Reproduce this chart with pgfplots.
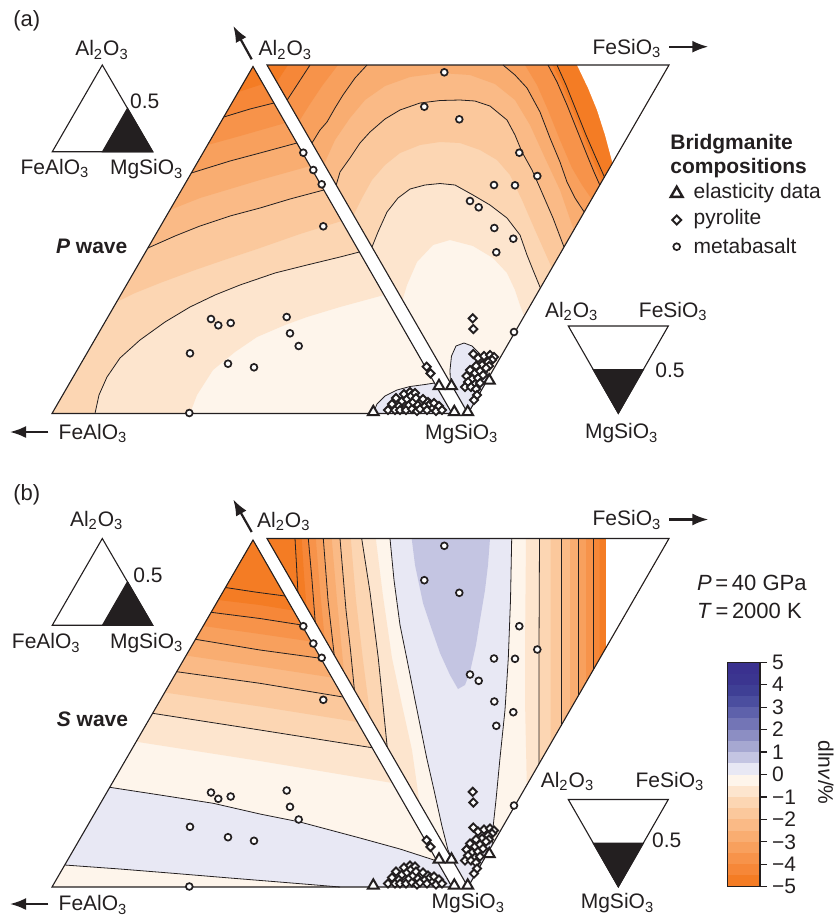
\documentclass[border=0pt]{standalone}
\usepackage{pgfplots}
\pgfplotsset{compat=1.18}
\usepackage{pgfplotstable}
\usepackage{fontspec}
\setmainfont{Liberation Sans}
\usetikzlibrary{arrows.meta}

% contour band colours: o1 (0 to -0.5) ... o10 (-4.5 to -5); b1 (0 to 0.5) ... b10 (4.5 to 5)
\definecolor{o1}{HTML}{FEF5EB}
\definecolor{o2}{HTML}{FDE5CE}
\definecolor{o3}{HTML}{FCD6B3}
\definecolor{o4}{HTML}{FBC89C}
\definecolor{o5}{HTML}{FABA86}
\definecolor{o6}{HTML}{F9AD71}
\definecolor{o7}{HTML}{F8A05D}
\definecolor{o8}{HTML}{F7934A}
\definecolor{o9}{HTML}{F68738}
\definecolor{o10}{HTML}{F47C24}
\definecolor{b1}{HTML}{E8E8F4}
\definecolor{b2}{HTML}{C4C5E2}
\definecolor{b3}{HTML}{A6A8D1}
\definecolor{b4}{HTML}{8C8EC3}
\definecolor{b5}{HTML}{7375B6}
\definecolor{b6}{HTML}{5E61AB}
\definecolor{b7}{HTML}{4B4E9F}
\definecolor{b8}{HTML}{3F3F95}
\definecolor{b9}{HTML}{3B3590}
\definecolor{b10}{HTML}{3A318F}
\definecolor{ink}{HTML}{231F20}

\newcommand{\lbl}{\fontsize{10.5}{12}\selectfont}
\newcommand{\sub}[1]{\textsubscript{#1}}

% bridgmanite compositions (panel a frame; panel b is 473.5 px lower)
\pgfplotstableread{
x y
303.3 152.7
313.3 170
321.7 184.3
323.3 226.3
211 319
218.3 325.3
230.7 323
286.7 317
290 333.3
298.7 346
190 353.3
228 363.7
254 367.3
189.3 413
444.3 72.3
424.3 106.7
459.3 119.3
519.3 152.7
537.3 176
494 185
515 185.3
470 201
478.7 207.3
494.3 228
513.3 238.7
496.3 252.3
514 332
}\metabasalt

\pgfplotstableread{
x y
426.7 366.7
430.5 373.3
388 410
392 404
395 410
396 398
399 406
400 410
402 401
404 394
406 410
407 399
409 405
410 392
411 396
412 409
413 402
415 393
416 398
417 411
418 405
420 409
422 401
423 399
425 406
427 410
428 402
430 404
433 408
434 403
436 411
439 406
442 410
472.7 318.3
473.3 329
473.3 354
478 358
484 356
490 355
494 357
492 360
488 362
482 365
476 366
489 366
470 370
475 373
480 371
486 368
466.5 376
472 379
478 378
483 375
468 382
475 384
480 383
465 387
471 387
476 389
477 395
474 400
}\pyrolite

\pgfplotstableread{
x y
373.3 412
439 386
451.5 386
454.3 412
467.7 412
489.3 380.5
}\elastic

\pgfplotsset{
  cline/.style={draw=ink, line width=0.4pt, mark=none},
  tri/.style={draw=ink, line width=0.55pt, fill=none, mark=none},
  band/.style={fill=#1, draw=none, mark=none},
  mbas/.style={only marks, mark=*, mark size=1.7pt, mark options={draw=ink, line width=0.85pt, fill=white}},
  mpyr/.style={only marks, mark=square*, mark size=1.45pt, mark options={draw=ink, line width=0.95pt, fill=white, rotate=45}},
  mela/.style={only marks, mark=triangle*, mark size=3.1pt, mark options={draw=ink, line width=1pt, fill=white}},
}
\tikzset{arr/.style={draw=ink, line width=1.1pt, -{Latex[length=8pt,width=6pt]}}}

\begin{document}
\begin{tikzpicture}
\begin{axis}[at={(0,0)}, anchor=south west, scale only axis,
  width=418pt, height=461.5pt, xmin=0, xmax=836, ymin=0, ymax=923,
  y dir=reverse, hide axis, clip=false]

%% ================= panel (a): P wave =================
% left triangle Al2O3 - FeAlO3 - MgSiO3
\addplot[band=o1] coordinates {(52,413.5)(452,413.5)(253,66.5)} --cycle;
\addplot[band=o2] coordinates {(190,413.5)(197,395)(213,370)(235,352)(257,337)(285,325)(307,317)(340,307)(384,295)(253,66.5)(52,413.5)} --cycle;
\addplot[band=o3] coordinates {(95,413.5)(99,395)(107,377)(120,358)(140,340)(165,322)(190,307)(215,295)(240,285)(275,273)(307,265)(340,257)(359.4,252)(253,66.5)(52,413.5)} --cycle;
\addplot[band=o4] coordinates {(116.6,302)(135,293)(160,283)(195,270)(227,259)(260,248)(300,234)(341.6,221)(253,66.5)} --cycle;
\addplot[band=o5] coordinates {(147.9,248)(175,236)(200,226)(230,216)(260,208)(290,199)(323.8,190)(253,66.5)} --cycle;
\addplot[band=o6] coordinates {(169.9,210)(200,198)(230,189)(260,180)(310.1,166)(253,66.5)} --cycle;
\addplot[band=o7] coordinates {(191.3,173)(230,161)(260,153)(296.9,143)(253,66.5)} --cycle;
\addplot[band=o8] coordinates {(207.5,145)(240,136)(285.4,123)(253,66.5)} --cycle;
\addplot[band=o9] coordinates {(223.8,117)(250,109)(273.9,103)(253,66.5)} --cycle;
\addplot[band=o10] coordinates {(238.2,92)(263,84)(253,66.5)} --cycle;
\addplot[band=b1] coordinates {(373,413.5)(377,404)(385,396)(397,390)(410,386.5)(425,384.5)(434.5,383)(452,413.5)} --cycle;
\addplot[cline] coordinates {(223.8,117)(250,109)(273.9,103)};
\addplot[cline] coordinates {(191.3,173)(230,161)(260,153)(296.9,143)};
\addplot[cline] coordinates {(147.9,248)(175,236)(200,226)(230,216)(260,208)(290,199)(323.8,190)};
\addplot[cline] coordinates {(95,413.5)(99,395)(107,377)(120,358)(140,340)(165,322)(190,307)(215,295)(240,285)(275,273)(307,265)(340,257)(359.4,252)};
\addplot[cline] coordinates {(373,413.5)(377,404)(385,396)(397,390)(410,386.5)(425,384.5)(434.5,383)};
\addplot[tri] coordinates {(253,66.5)(52,413.5)(452,413.5)} --cycle;

% right triangle Al2O3 - FeSiO3 - MgSiO3
\addplot[band=o1] coordinates {(267,65)(669,65)(468,413.5)} --cycle;
\addplot[band=o2] coordinates {(402.5,300)(407,285)(417,262)(433,245)(450,240)(473,246)(493,258)(507,273)(515,290)(520,305)(524.2,316)(669,65)(267,65)} --cycle;
\addplot[band=o3] coordinates {(372,247)(378,232)(387,212)(398,198)(410,189)(425,185)(440,183.5)(455,185)(473,195)(490,205)(507,218)(520,235)(527,255)(533,270)(540.4,288)(669,65)(267,65)} --cycle;
\addplot[band=o4] coordinates {(353.5,215)(362,198)(372,180)(385,165)(400,153)(420,145)(440,142)(460,143)(480,150)(497,160)(510,175)(522,200)(535,230)(551.9,268)(669,65)(267,65)} --cycle;
\addplot[band=o5] coordinates {(336.2,185)(340,172)(350,158)(360,143)(370,132)(385,119)(400,110)(420,103)(440,100.5)(460,100)(475,101)(490,106)(507,120)(515,135)(522,152)(532,170)(540,188)(553,218)(564,247)(669,65)(267,65)} --cycle;
\addplot[band=o6] coordinates {(324.1,164)(335,140)(350,118)(365,100)(385,86)(410,77)(440,73)(470,75)(495,84)(515,100)(530,125)(545,158)(560,190)(573.8,230)(669,65)(267,65)} --cycle;
\addplot[band=o7] coordinates {(312,143)(320,130)(327,122)(335,108)(343,95)(355,78)(367,65)(267,65)} --cycle;
\addplot[band=o7] coordinates {(503,65)(515,75)(527,88)(540,112)(550,138)(560,162)(567,182)(575,198)(584.2,212)(669,65)} --cycle;
\addplot[band=o8] coordinates {(299.3,121)(310,104)(322,86)(338,65)(267,65)} --cycle;
\addplot[band=o8] coordinates {(525,65)(537,85)(548,110)(560,140)(572,168)(582,185)(591.7,199)(669,65)} --cycle;
\addplot[band=o9] coordinates {(287.2,100)(297,85)(310,65)(267,65)} --cycle;
\addplot[band=o9] coordinates {(548,65)(557,82)(567,105)(577,130)(587,155)(594,172)(599.8,185)(669,65)} --cycle;
\addplot[band=o10] coordinates {(276.8,82)(288,65)(267,65)} --cycle;
\addplot[band=o10] coordinates {(552.5,65)(561.5,83)(571.5,107)(582,132)(592,158)(602.1,181)(669,65)} --cycle;
\addplot[band=white] coordinates {(577,65)(588,88)(597,110)(605,135)(612.5,163)(669,65)} --cycle;
\addplot[band=b1] coordinates {(450.4,383)(450,370)(451.5,356)(456,346)(464,343)(472,346)(480,354)(485,364)(489.1,377)(468,413.5)} --cycle;
\addplot[cline] coordinates {(372,247)(378,232)(387,212)(398,198)(410,189)(425,185)(440,183.5)(455,185)(473,195)(490,205)(507,218)(520,235)(527,255)(533,270)(540.4,288)};
\addplot[cline] coordinates {(336.2,185)(340,172)(350,158)(360,143)(370,132)(385,119)(400,110)(420,103)(440,100.5)(460,100)(475,101)(490,106)(507,120)(515,135)(522,152)(532,170)(540,188)(553,218)(564,247)};
\addplot[cline] coordinates {(312,143)(320,130)(327,122)(335,108)(343,95)(355,78)(367,65)};
\addplot[cline] coordinates {(503,65)(515,75)(527,88)(540,112)(550,138)(560,162)(567,182)(575,198)(584.2,212)};
\addplot[cline] coordinates {(287.2,100)(297,85)(310,65)};
\addplot[cline] coordinates {(548,65)(557,82)(567,105)(577,130)(587,155)(594,172)(599.8,185)};
\addplot[cline] coordinates {(557,65)(566,85)(576,110)(586,135)(596,158)(604.4,177)};
\addplot[cline] coordinates {(450.4,383)(450,370)(451.5,356)(456,346)(464,343)(472,346)(480,354)(485,364)(489.1,377)};
\addplot[tri] coordinates {(267,65)(669,65)(468,413.5)} --cycle;

%% ================= panel (b): S wave =================
\addplot[band=o1] coordinates {(52,887)(452,887)(253,540)} --cycle;
\addplot[band=b1] coordinates {(64.7,865)(120,869)(173.3,873.3)(230,878)(273.3,881.5)(310,884.5)(340,887)(452,887)(437.1,861)(400,849)(360,838)(300,822)(260,814)(213.3,803.3)(160,795)(109.8,787.3)} --cycle;
\addplot[band=o2] coordinates {(136.2,741.7)(260,761)(392.4,783)(253,540)} --cycle;
\addplot[band=o3] coordinates {(152.6,713.3)(260,730)(372.1,747.7)(253,540)} --cycle;
\addplot[band=o4] coordinates {(164.7,692.5)(260,706.5)(357.4,722)(253,540)} --cycle;
\addplot[band=o5] coordinates {(176.7,671.7)(260,683.3)(343,697)(253,540)} --cycle;
\addplot[band=o6] coordinates {(186.1,655.5)(260,666.5)(331.9,677.5)(253,540)} --cycle;
\addplot[band=o7] coordinates {(195.5,639.3)(260,650)(320.8,658.3)(253,540)} --cycle;
\addplot[band=o8] coordinates {(203.2,626)(260,634)(311.2,641.5)(253,540)} --cycle;
\addplot[band=o9] coordinates {(211.1,612.3)(260,618.5)(301.7,625)(253,540)} --cycle;
\addplot[band=o10] coordinates {(218.3,600)(260,605)(293.4,610.5)(253,540)} --cycle;
\addplot[cline] coordinates {(225.5,587.5)(255,592)(285.1,596)};
\addplot[cline] coordinates {(211.1,612.3)(260,618.5)(301.7,625)};
\addplot[cline] coordinates {(195.5,639.3)(260,650)(320.8,658.3)};
\addplot[cline] coordinates {(176.7,671.7)(260,683.3)(343,697)};
\addplot[cline] coordinates {(152.6,713.3)(260,730)(372.1,747.7)};
\addplot[cline] coordinates {(109.8,787.3)(160,795)(213.3,803.3)(260,814)(300,822)(360,838)(400,849)(437.1,861)};
\addplot[cline] coordinates {(64.7,865)(120,869)(173.3,873.3)(230,878)(273.3,881.5)(310,884.5)(340,887)};
\addplot[tri] coordinates {(253,540)(52,887)(452,887)} --cycle;

% right triangle
\addplot[band=b1] coordinates {(267,538.5)(669,538.5)(468,887)} --cycle;
\addplot[band=b2] coordinates {(411.7,538.5)(415,565)(423,603)(432,630)(440,653)(450,675)(458,689)(465,685)(470,672)(476,645)(480,620)(485,590)(488,565)(490,538.5)} --cycle;
\addplot[band=o1] coordinates {(390,538.5)(394,580)(400,625)(406.7,658)(415,700)(426.7,758)(434,790)(441.7,825)(448,850)(452.4,860)(267,538.5)} --cycle;
\addplot[band=o2] coordinates {(375.8,538.5)(383,596)(392,658)(402,705)(412,750)(419.5,803)(267,538.5)} --cycle;
\addplot[band=o3] coordinates {(361.7,538.5)(370,592)(378.3,658.3)(383,705)(387.2,747)(267,538.5)} --cycle;
\addplot[band=o4] coordinates {(350.8,538.5)(356,600)(363,660)(370.5,718)(267,538.5)} --cycle;
\addplot[band=o5] coordinates {(340,538.5)(346,610)(350.5,650)(354.4,690)(267,538.5)} --cycle;
\addplot[band=o6] coordinates {(331.7,538.5)(337,600)(344,672)(267,538.5)} --cycle;
\addplot[band=o7] coordinates {(323.3,538.5)(328,600)(334.2,655)(267,538.5)} --cycle;
\addplot[band=o8] coordinates {(315.8,538.5)(320,590)(324.7,638.5)(267,538.5)} --cycle;
\addplot[band=o9] coordinates {(308.3,538.5)(312,580)(315.2,622)(267,538.5)} --cycle;
\addplot[band=o10] coordinates {(301.7,538.5)(304,575)(306.5,607)(267,538.5)} --cycle;
\addplot[band=o1] coordinates {(511.7,538.5)(510.5,600)(508.3,658.3)(505,710)(500,758)(496,800)(493.3,825)(492.2,845)(669,538.5)} --cycle;
\addplot[band=o2] coordinates {(526,538.5)(525,650)(525,700)(526.8,785)(669,538.5)} --cycle;
\addplot[band=o3] coordinates {(539.5,538.5)(539,650)(539,763.9)(669,538.5)} --cycle;
\addplot[band=o4] coordinates {(550.7,538.5)(550.7,743.6)(669,538.5)} --cycle;
\addplot[band=o5] coordinates {(561,538.5)(561,725.8)(669,538.5)} --cycle;
\addplot[band=o6] coordinates {(570,538.5)(570,710.2)(669,538.5)} --cycle;
\addplot[band=o7] coordinates {(578.5,538.5)(578.5,695.4)(669,538.5)} --cycle;
\addplot[band=o8] coordinates {(586,538.5)(586,682.4)(669,538.5)} --cycle;
\addplot[band=o9] coordinates {(593.5,538.5)(593.5,669.4)(669,538.5)} --cycle;
\addplot[band=o10] coordinates {(599.5,538.5)(599.5,659)(669,538.5)} --cycle;
\addplot[band=white] coordinates {(606,538.5)(606,647.7)(669,538.5)} --cycle;
\addplot[cline] coordinates {(295,538.5)(296.5,565)(297.9,592)};
\addplot[cline] coordinates {(308.3,538.5)(312,580)(315.2,622)};
\addplot[cline] coordinates {(323.3,538.5)(328,600)(334.2,655)};
\addplot[cline] coordinates {(340,538.5)(346,610)(350.5,650)(354.4,690)};
\addplot[cline] coordinates {(361.7,538.5)(370,592)(378.3,658.3)(383,705)(387.2,747)};
\addplot[cline] coordinates {(390,538.5)(394,580)(400,625)(406.7,658)(415,700)(426.7,758)(434,790)(441.7,825)(448,850)(452.4,860)};
\addplot[cline] coordinates {(511.7,538.5)(510.5,600)(508.3,658.3)(505,710)(500,758)(496,800)(493.3,825)(492.2,845)};
\addplot[cline] coordinates {(539.5,538.5)(539,650)(539,763.9)};
\addplot[cline] coordinates {(561,538.5)(561,725.8)};
\addplot[cline] coordinates {(578.5,538.5)(578.5,695.4)};
\addplot[cline] coordinates {(593.5,538.5)(593.5,669.4)};
\addplot[tri] coordinates {(267,538.5)(669,538.5)(468,887)} --cycle;

%% ================= compositions =================
\addplot[mbas] table[x=x,y=y] {\metabasalt};
\addplot[mpyr] table[x=x,y=y] {\pyrolite};
\addplot[mela] table[x=x,y=y] {\elastic};
\addplot[mbas] table[x=x,y expr=\thisrow{y}+473.5] {\metabasalt};
\addplot[mpyr] table[x=x,y expr=\thisrow{y}+473.5] {\pyrolite};
\addplot[mela] table[x=x,y expr=\thisrow{y}+473.5] {\elastic};

%% ================= key triangles =================
\addplot[tri, fill=white] coordinates {(102.3,65)(52.3,151.7)(152.7,151.7)} --cycle;
\addplot[tri, fill=ink] coordinates {(127.5,108.3)(102.5,151.7)(152.7,151.7)} --cycle;
\addplot[tri, fill=white] coordinates {(102.3,538.5)(52.3,625.2)(152.7,625.2)} --cycle;
\addplot[tri, fill=ink] coordinates {(127.5,581.8)(102.5,625.2)(152.7,625.2)} --cycle;
\addplot[tri, fill=white] coordinates {(568.3,326)(668.3,326)(618.3,413.3)} --cycle;
\addplot[tri, fill=ink] coordinates {(593.3,369.7)(643.3,369.7)(618.3,413.3)} --cycle;
\addplot[tri, fill=white] coordinates {(568.3,799.5)(668.3,799.5)(618.3,886.8)} --cycle;
\addplot[tri, fill=ink] coordinates {(593.3,843.2)(643.3,843.2)(618.3,886.8)} --cycle;

% legend symbols
\addplot[mela, mark size=3.4pt, mark options={line width=1.2pt, draw=ink, fill=white}] coordinates {(676.7,193.5)};
\addplot[mpyr, mark size=1.6pt] coordinates {(676.7,220)};
\addplot[mbas] coordinates {(676.7,246.7)};

%% ================= text =================
\node[font=\fontsize{11}{12}\selectfont, text=ink] at (axis cs:26.7,21) {(a)};
\node[font=\fontsize{11}{12}\selectfont, text=ink] at (axis cs:26.7,495) {(b)};

% panel (a) labels
\node[font=\lbl, text=ink] at (axis cs:102,50) {Al\sub{2}O\sub{3}};
\node[font=\lbl, text=ink] at (axis cs:144.7,101.7) {0.5};
\node[font=\lbl, text=ink] at (axis cs:55,168.5) {FeAlO\sub{3}};
\node[font=\lbl, text=ink] at (axis cs:146.7,169.5) {MgSiO\sub{3}};
\node[font=\lbl, text=ink, anchor=west, inner sep=0pt] at (axis cs:258.3,50) {Al\sub{2}O\sub{3}};
\node[font=\lbl, text=ink, anchor=east, inner sep=0pt] at (axis cs:661.7,48.3) {FeSiO\sub{3}};
\node[font=\lbl, text=ink, anchor=west, inner sep=0pt] at (axis cs:58.3,433.5) {FeAlO\sub{3}};
\node[font=\lbl, text=ink] at (axis cs:461.7,434) {MgSiO\sub{3}};
\node[font=\lbl, text=ink] at (axis cs:91.7,246.7) {\textbf{\textit{P} wave}};
\node[font=\lbl, text=ink] at (axis cs:571.7,311.7) {Al\sub{2}O\sub{3}};
\node[font=\lbl, text=ink] at (axis cs:673.3,311.7) {FeSiO\sub{3}};
\node[font=\lbl, text=ink] at (axis cs:670,370) {0.5};
\node[font=\lbl, text=ink] at (axis cs:621.7,433.5) {MgSiO\sub{3}};
\node[font=\lbl, text=ink, anchor=west, inner sep=0pt] at (axis cs:670,144.5) {\textbf{Bridgmanite}};
\node[font=\lbl, text=ink, anchor=west, inner sep=0pt] at (axis cs:670,168.3) {\textbf{compositions}};
\node[font=\lbl, text=ink, anchor=west, inner sep=0pt] at (axis cs:693.3,192.7) {elasticity data};
\node[font=\lbl, text=ink, anchor=west, inner sep=0pt] at (axis cs:693.3,219) {pyrolite};
\node[font=\lbl, text=ink, anchor=west, inner sep=0pt] at (axis cs:693.3,246) {metabasalt};

% panel (b) labels
\node[font=\lbl, text=ink] at (axis cs:96.7,520.5) {Al\sub{2}O\sub{3}};
\node[font=\lbl, text=ink] at (axis cs:148,575) {0.5};
\node[font=\lbl, text=ink] at (axis cs:46.3,643) {FeAlO\sub{3}};
\node[font=\lbl, text=ink] at (axis cs:146.7,643) {MgSiO\sub{3}};
\node[font=\lbl, text=ink, anchor=west, inner sep=0pt] at (axis cs:256.7,521.7) {Al\sub{2}O\sub{3}};
\node[font=\lbl, text=ink, anchor=east, inner sep=0pt] at (axis cs:661.7,520) {FeSiO\sub{3}};
\node[font=\lbl, text=ink, anchor=west, inner sep=0pt] at (axis cs:58.3,905) {FeAlO\sub{3}};
\node[font=\lbl, text=ink] at (axis cs:468.3,903.5) {MgSiO\sub{3}};
\node[font=\lbl, text=ink] at (axis cs:92.5,719.3) {\textbf{\textit{S} wave}};
\node[font=\lbl, text=ink] at (axis cs:567.5,781.7) {Al\sub{2}O\sub{3}};
\node[font=\lbl, text=ink] at (axis cs:670,781.7) {FeSiO\sub{3}};
\node[font=\lbl, text=ink] at (axis cs:666.7,840) {0.5};
\node[font=\lbl, text=ink] at (axis cs:617.5,903.5) {MgSiO\sub{3}};
\node[font=\fontsize{11}{12}\selectfont, text=ink, anchor=west, inner sep=0pt] at (axis cs:696.7,583.3) {\textit{P}\,=\,40 GPa};
\node[font=\fontsize{11}{12}\selectfont, text=ink, anchor=west, inner sep=0pt] at (axis cs:696.7,610.5) {\textit{T}\,=\,2000 K};
\node[font=\lbl, text=ink, rotate=-90] at (axis cs:826,772.5) {dln\textit{v}/\%};

% axis arrows
\draw[arr] (axis cs:251.7,59.3) -- (axis cs:233.3,26);
\draw[arr] (axis cs:669.3,46.7) -- (axis cs:708.3,46.7);
\draw[arr] (axis cs:48.3,432) -- (axis cs:10,432);
\draw[arr] (axis cs:251.7,532) -- (axis cs:233.3,499.5);
\draw[arr] (axis cs:669.3,519.5) -- (axis cs:708.3,519.5);
\draw[arr] (axis cs:48.3,904) -- (axis cs:10,904);
\end{axis}

% colour scale
\begin{axis}[at={(363.85pt,18.15pt)}, anchor=south west, scale only axis,
  width=16.15pt, height=112.2pt, xmin=0, xmax=1, ymin=-5, ymax=5,
  xtick=\empty, ytick={-5,...,5},
  yticklabels={−5,−4,−3,−2,−1,0,1,2,3,4,5},
  ytick pos=right, tick align=outside, major tick length=3.6pt,
  axis line style={draw=ink, line width=0.6pt},
  tick style={draw=ink, line width=0.6pt},
  yticklabel style={font=\lbl, text=ink, anchor=west, inner xsep=2.2pt},
  axis on top]
\addplot[band=o10] coordinates {(0,-5)(1,-5)(1,-4.5)(0,-4.5)} --cycle;
\addplot[band=o9] coordinates {(0,-4.5)(1,-4.5)(1,-4)(0,-4)} --cycle;
\addplot[band=o8] coordinates {(0,-4)(1,-4)(1,-3.5)(0,-3.5)} --cycle;
\addplot[band=o7] coordinates {(0,-3.5)(1,-3.5)(1,-3)(0,-3)} --cycle;
\addplot[band=o6] coordinates {(0,-3)(1,-3)(1,-2.5)(0,-2.5)} --cycle;
\addplot[band=o5] coordinates {(0,-2.5)(1,-2.5)(1,-2)(0,-2)} --cycle;
\addplot[band=o4] coordinates {(0,-2)(1,-2)(1,-1.5)(0,-1.5)} --cycle;
\addplot[band=o3] coordinates {(0,-1.5)(1,-1.5)(1,-1)(0,-1)} --cycle;
\addplot[band=o2] coordinates {(0,-1)(1,-1)(1,-0.5)(0,-0.5)} --cycle;
\addplot[band=o1] coordinates {(0,-0.5)(1,-0.5)(1,0)(0,0)} --cycle;
\addplot[band=b1] coordinates {(0,0)(1,0)(1,0.5)(0,0.5)} --cycle;
\addplot[band=b2] coordinates {(0,0.5)(1,0.5)(1,1)(0,1)} --cycle;
\addplot[band=b3] coordinates {(0,1)(1,1)(1,1.5)(0,1.5)} --cycle;
\addplot[band=b4] coordinates {(0,1.5)(1,1.5)(1,2)(0,2)} --cycle;
\addplot[band=b5] coordinates {(0,2)(1,2)(1,2.5)(0,2.5)} --cycle;
\addplot[band=b6] coordinates {(0,2.5)(1,2.5)(1,3)(0,3)} --cycle;
\addplot[band=b7] coordinates {(0,3)(1,3)(1,3.5)(0,3.5)} --cycle;
\addplot[band=b8] coordinates {(0,3.5)(1,3.5)(1,4)(0,4)} --cycle;
\addplot[band=b9] coordinates {(0,4)(1,4)(1,4.5)(0,4.5)} --cycle;
\addplot[band=b10] coordinates {(0,4.5)(1,4.5)(1,5)(0,5)} --cycle;
\end{axis}
\pgfresetboundingbox
\path (0,0) rectangle (418pt,461.5pt);
\end{tikzpicture}
\end{document}
